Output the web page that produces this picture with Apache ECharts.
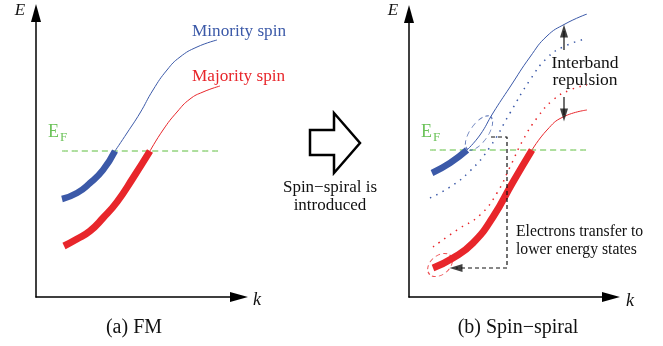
<!DOCTYPE html>
<html><head><meta charset="utf-8">
<script src="https://cdn.jsdelivr.net/npm/echarts@6/dist/echarts.min.js"></script>
<style>html,body{margin:0;padding:0;background:#fff}#c{width:663px;height:346px}</style>
</head><body><div id="c"></div>
<script>
// ---- Panel (a) FM : schematic band curves (arbitrary units = k, E) ----
const fmMinorityOcc   = [[26,98],[41,104],[54,114],[67,127],[79,146]];
const fmMinorityEmpty = [[79,146],[91,164],[104,184],[117,207],[131,227],[144,240],[161,250],[181,257]];
const fmMajorityOcc   = [[28,51],[41,58],[54,66],[67,79],[81,95],[97,119],[114,146]];
const fmMajorityEmpty = [[114,146],[127,167],[141,185],[154,198],[167,205],[184,211]];
const fmFermi = [[26,146],[184,146]];

// ---- Panel (b) Spin-spiral ----
const ssMinorityOcc   = [[23,124],[41,134],[58,147]];
const ssMinorityEmpty = [[58,147],[71,162],[84,184],[101,210],[121,240],[138,261],[156,273],[178,283]];
const ssMinorityFM    = [[21,99],[41,110],[61,126],[81,150],[101,184],[121,217],[138,239],[154,250],[176,258]];
const ssMajorityFM    = [[24,50],[48,67],[71,82],[88,104],[101,130],[114,157],[128,179],[144,197],[161,207],[178,212]];
const ssMajorityOcc   = [[24,29],[44,39],[64,54],[84,80],[104,115],[123,147]];
const ssMajorityEmpty = [[123,147],[138,167],[154,180],[178,187]];
const ssFermi = [[21,147],[179,147]];
const repulsionUp   = [[155,247],[155,266]];
const repulsionDown = [[155,200],[155,182]];
const transferPath  = [[82,160],[98,160],[98,29],[47,29]];
const blueCircle = [70,164];
const redCircle  = [31,32];

const BLUE = '#3b59a8', RED = '#e8262b', GREEN = '#5cbd3c', EFC = '#6cc35a';

function ln(data, color, width, type, xi) {
  return {type:'line', data, xAxisIndex:xi, yAxisIndex:xi, smooth:0.5, symbol:'none',
    lineStyle:{color, width, type: type||'solid', cap:'butt'}, silent:true, z: width>3?3:2};
}
function axes(i, xmax, ymax) {
  const al = {show:true, symbol:['none','triangle'], symbolSize:[10,18], lineStyle:{color:'#000', width:1.5}};
  return {
    x:{type:'value', gridIndex:i, min:0, max:xmax, axisLine:al, axisTick:{show:false}, axisLabel:{show:false}, splitLine:{show:false}},
    y:{type:'value', gridIndex:i, min:0, max:ymax, axisLine:al, axisTick:{show:false}, axisLabel:{show:false}, splitLine:{show:false}}
  };
}
const a0 = axes(0, 203, 284), a1 = axes(1, 202, 283);
const serif = '"Liberation Serif","DejaVu Serif",serif';
function txt(x, y, text, size, color, align, style) {
  return {type:'text', x, y, silent:true, style:{text, fill:color||'#222', font:(style||'')+' '+size+'px '+serif, textAlign:align||'center', textVerticalAlign:'middle'}};
}
const chart = echarts.init(document.getElementById('c'), null, {renderer:'canvas'});
chart.setOption({
  animation:false,
  grid:[{left:36, top:13, width:203, height:284}, {left:409, top:14, width:202, height:283}],
  xAxis:[a0.x, a1.x], yAxis:[a0.y, a1.y],
  series:[
    ln(fmFermi, GREEN, 1, [6,4], 0),
    ln(fmMinorityEmpty, BLUE, 1, 'solid', 0),
    ln(fmMinorityOcc, BLUE, 6.5, 'solid', 0),
    ln(fmMajorityEmpty, RED, 1, 'solid', 0),
    ln(fmMajorityOcc, RED, 7, 'solid', 0),
    ln(ssFermi, GREEN, 1, [6,4], 1),
    ln(ssMinorityFM, BLUE, 1.5, [1.5,5.5], 1),
    ln(ssMajorityFM, RED, 1.5, [1.5,5.5], 1),
    ln(ssMinorityEmpty, BLUE, 1, 'solid', 1),
    ln(ssMinorityOcc, BLUE, 6.5, 'solid', 1),
    ln(ssMajorityEmpty, RED, 1, 'solid', 1),
    ln(ssMajorityOcc, RED, 7, 'solid', 1),
    {type:'line', data:transferPath, xAxisIndex:1, yAxisIndex:1, symbol:'none', silent:true,
      lineStyle:{color:'#111', width:1.2, type:[4,3]}},
    {type:'line', data:repulsionUp, xAxisIndex:1, yAxisIndex:1, symbol:'none', silent:true, lineStyle:{color:'#111', width:1.2}},
    {type:'line', data:repulsionDown, xAxisIndex:1, yAxisIndex:1, symbol:'none', silent:true, lineStyle:{color:'#111', width:1.2}},
    {type:'scatter', xAxisIndex:1, yAxisIndex:1, silent:true, symbol:'triangle', symbolSize:[8,13],
      itemStyle:{color:'#111'},
      data:[{value:transferPath[3], symbolRotate:90}, {value:repulsionUp[1], symbolRotate:0}, {value:repulsionDown[1], symbolRotate:180}]},
    {type:'scatter', xAxisIndex:1, yAxisIndex:1, silent:true, symbol:'circle',
      data:[{value:blueCircle, symbolSize:[18,40], symbolRotate:-35, itemStyle:{color:'rgba(0,0,0,0)', borderColor:BLUE, borderWidth:1, borderType:[4,3]}},
            {value:redCircle, symbolSize:[28,19], symbolRotate:40, itemStyle:{color:'rgba(0,0,0,0)', borderColor:RED, borderWidth:1, borderType:[4,3]}}]}
  ],
  graphic:[
    {type:'polygon', silent:true, shape:{points:[[310,130],[334,130],[334,113],[360,143],[334,173],[334,155],[310,155]]},
      style:{fill:'#fff', stroke:'#000', lineWidth:2.5, lineJoin:'miter'}},
    txt(20, 11, 'E', 17, '#111', 'center', 'italic'),
    txt(393, 11, 'E', 17, '#111', 'center', 'italic'),
    txt(257, 300, 'k', 18, '#111', 'center', 'italic'),
    txt(630, 301, 'k', 18, '#111', 'center', 'italic'),
    txt(134, 328, '(a) FM', 20, '#111'),
    txt(518, 328, '(b) Spin\u2212spiral', 20, '#111'),
    txt(192, 31, 'Minority spin', 17.2, BLUE, 'left'),
    txt(192, 76, 'Majority spin', 17.2, RED, 'left'),
    txt(48, 132, 'E', 18, EFC, 'left'),
    txt(60, 138, 'F', 13, EFC, 'left'),
    txt(421, 132, 'E', 18, EFC, 'left'),
    txt(433, 138, 'F', 13, EFC, 'left'),
    txt(330, 188, 'Spin\u2212spiral is', 17, '#111'),
    txt(330, 206, 'introduced', 17, '#111'),
    txt(585, 63, 'Interband', 17.5, '#111'),
    txt(585, 80, 'repulsion', 17.5, '#111'),
    txt(516, 232, 'Electrons transfer to', 15.7, '#111', 'left'),
    txt(516, 250, 'lower energy states', 15.7, '#111', 'left')
  ]
});
</script></body></html>
